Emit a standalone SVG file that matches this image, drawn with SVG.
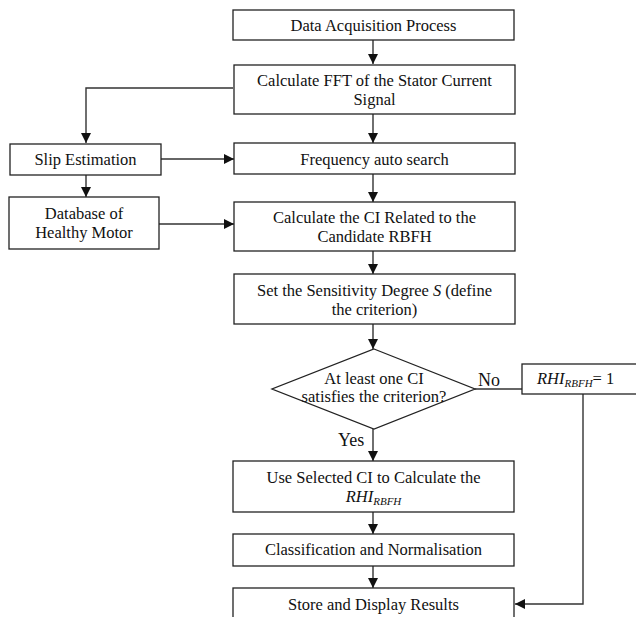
<svg xmlns="http://www.w3.org/2000/svg" width="636" height="617" viewBox="0 0 636 617">
<style>
.box{fill:#fff;stroke:#222;stroke-width:1.3}
.t{font-family:"Liberation Serif","Times New Roman",serif;font-size:16.5px;fill:#111;text-anchor:middle}
.ts{font-family:"Liberation Serif","Times New Roman",serif;font-size:16.5px;fill:#111;text-anchor:start}
.lbl{font-family:"Liberation Serif","Times New Roman",serif;font-size:18px;fill:#111}
.c{fill:none;stroke:#333;stroke-width:1.4}
</style>
<defs>
<marker id="ah" viewBox="0 0 10 10" refX="10" refY="5" markerWidth="10" markerHeight="10" markerUnits="userSpaceOnUse" orient="auto">
<path d="M0,0 L10,5 L0,10 z" fill="#111"/>
</marker>
</defs>
<rect width="636" height="617" fill="#fff"/>
<g id="connectors">
<path class="c" d="M373,40 V64" marker-end="url(#ah)"/>
<path class="c" d="M233,88 H86 V143" marker-end="url(#ah)"/>
<path class="c" d="M373,114 V143" marker-end="url(#ah)"/>
<path class="c" d="M161,159 H234" marker-end="url(#ah)"/>
<path class="c" d="M86,175 V197" marker-end="url(#ah)"/>
<path class="c" d="M373,174 V202" marker-end="url(#ah)"/>
<path class="c" d="M159,224 H234" marker-end="url(#ah)"/>
<path class="c" d="M373,251 V274" marker-end="url(#ah)"/>
<path class="c" d="M373,324 V349" marker-end="url(#ah)"/>
<path class="c" d="M475,389 H522"/>
<path class="c" d="M373,429 V461" marker-end="url(#ah)"/>
<path class="c" d="M373,512 V534" marker-end="url(#ah)"/>
<path class="c" d="M373,566 V588" marker-end="url(#ah)"/>
<path class="c" d="M583,394 V604 H515" marker-end="url(#ah)"/>
<text class="lbl" x="478" y="386">No</text>
<text class="lbl" x="338" y="446">Yes</text>
</g>
<g id="n1"><rect class="box" x="233" y="10" width="281" height="30"/><text class="t" x="373.5" y="31">Data Acquisition Process</text></g>
<g id="n2"><rect class="box" x="234" y="65" width="281" height="49"/><text class="t" x="374.5" y="86">Calculate FFT of the Stator Current</text><text class="t" x="374.5" y="105">Signal</text></g>
<g id="n3"><rect class="box" x="10" y="144" width="151" height="31"/><text class="t" x="85.5" y="165">Slip Estimation</text></g>
<g id="n4"><rect class="box" x="234" y="143" width="281" height="31"/><text class="t" x="374.5" y="165">Frequency auto search</text></g>
<g id="n5"><rect class="box" x="9" y="197" width="150" height="52"/><text class="t" x="84" y="219">Database of</text><text class="t" x="84" y="238">Healthy Motor</text></g>
<g id="n6"><rect class="box" x="234" y="202" width="281" height="49"/><text class="t" x="374.5" y="223">Calculate the CI Related to the</text><text class="t" x="374.5" y="242">Candidate RBFH</text></g>
<g id="n7"><rect class="box" x="234" y="274" width="281" height="50"/><text class="t" x="374.5" y="296">Set the Sensitivity Degree <tspan font-style="italic">S</tspan> (define</text><text class="t" x="374.5" y="315">the criterion)</text></g>
<g id="n8"><polygon class="box" points="374,349 475,389 374,429 272,389"/><text class="t" x="374" y="384">At least one CI</text><text class="t" x="374" y="402">satisfies the criterion?</text></g>
<g id="n9"><rect class="box" x="522" y="364" width="120" height="30"/><text class="ts" x="537" y="384"><tspan font-style="italic">RHI</tspan><tspan font-style="italic" font-size="11px" dy="3">RBFH</tspan><tspan dy="-3">= 1</tspan></text></g>
<g id="n10"><rect class="box" x="233" y="461" width="281" height="51"/><text class="t" x="373.5" y="483">Use Selected CI to Calculate the</text><text class="t" x="373.5" y="502"><tspan font-style="italic">RHI</tspan><tspan font-style="italic" font-size="11px" dy="3">RBFH</tspan></text></g>
<g id="n11"><rect class="box" x="233" y="534" width="281" height="32"/><text class="t" x="373.5" y="555">Classification and Normalisation</text></g>
<g id="n12"><rect class="box" x="233" y="588" width="281" height="40"/><text class="t" x="373.5" y="610">Store and Display Results</text></g>
</svg>
